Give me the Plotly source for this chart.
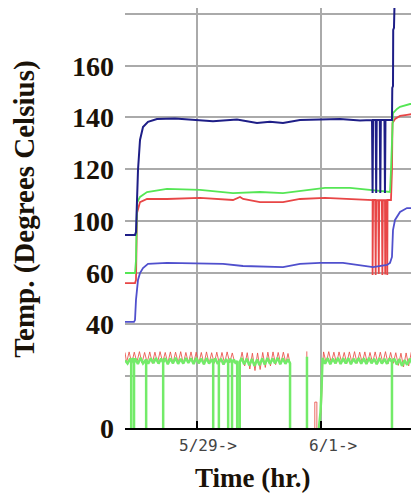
import plotly.graph_objects as go

# ---------------- data (x: hours from start, y: axis units, grid step = 20) ----------------
# Y tick labels as printed on the original chart
Y_TICKVALS = [0, 20, 40, 60, 80, 100, 120, 140, 160]
Y_TICKTEXT = ["0", "", "40", "60", "100", "120", "140", "160", ""]
X_GRID = [14, 38]
X_LABELS = ["5/29->", "6/1->"]
X_LABEL_POS = [16.1, 40.3]

# upper temperature traces
NAVY_X = [0, 1.94, 2.13, 2.23, 2.33, 2.52, 2.91, 3.30, 3.49, 4.46, 6.2, 9.7, 14.54, 17.06, 21.71,
          25.59, 28.1, 30.63, 33.93, 37.8, 41.68, 45.56, 47.89,
          48.0, 48.1, 48.6, 48.7, 48.8, 49.4, 49.5, 49.6, 50.3, 50.4, 50.5, 51.4,
          51.76, 51.82, 51.96, 52.0, 52.15, 52.25]
NAVY_Y = [74.6, 74.6, 75.7, 84.3, 92.0, 99.7, 111.3, 115.2, 116.3, 118.3, 119.4, 119.6, 119.0, 118.5, 119.2,
          117.9, 118.3, 117.9, 119.0, 119.2, 119.4, 118.8, 119.0,
          90.8, 119.0, 119.0, 90.8, 119.0, 119.0, 90.8, 119.0, 119.0, 90.8, 119.0, 119.0,
          119.0, 131.4, 132.1, 153.8, 154.6, 163.5]

REDU_X = [0, 1.94, 2.13, 2.23, 2.33, 2.91, 4.27, 8.14, 14.54, 20.94, 22.3, 22.9, 26.17, 30.63, 33.93,
          38.77, 43.62, 47.5,
          48.0, 48.0, 48.1, 48.5, 48.6, 48.7, 49.1, 49.2, 49.3, 49.8, 49.9, 50.0, 50.4, 50.45, 50.5,
          50.8, 50.85, 50.9, 51.4, 51.57, 51.76, 51.86, 52.35, 52.73, 53.32, 54.67, 57.0]
REDU_Y = [56.0, 56.0, 57.2, 72.7, 83.1, 87.3, 88.5, 88.5, 88.9, 88.1, 89.3, 88.5, 87.3, 87.3, 88.5,
          88.9, 88.5, 88.1,
          88.1, 59.1, 88.1, 88.1, 59.1, 88.1, 88.0, 59.5, 88.0, 88.0, 59.1, 88.0, 88.0, 59.3, 88.0,
          88.0, 59.1, 88.1, 88.1, 88.1, 99.7, 117.9, 119.4, 119.8, 120.6, 121.0, 121.7]

GRU_X = [0, 1.94, 2.13, 2.23, 2.33, 2.91, 4.27, 8.14, 14.54, 20.94, 26.17, 30.63, 33.93, 38.77,
         43.62, 47.5, 50.99, 51.38, 51.57, 51.76, 51.96, 52.73, 53.32, 55.26, 57.0]
GRU_Y = [59.9, 59.9, 64.9, 76.5, 87.0, 89.3, 91.2, 92.4, 92.0, 90.8, 91.2, 90.8, 91.6, 92.8,
         92.8, 92.0, 91.2, 91.2, 99.7, 115.2, 121.7, 123.3, 124.1, 125.2, 125.2]

BLU_X = [0, 1.74, 1.94, 2.13, 2.52, 2.91, 3.49, 4.46, 8.14, 16.48, 19.0, 22.88, 30.63, 33.93,
         37.81, 42.26, 46.92, 48.08, 50.79, 51.38, 51.76, 51.96, 52.35, 53.32, 54.67, 57.0]
BLU_Y = [41.0, 41.0, 41.7, 49.5, 57.2, 59.9, 61.8, 63.4, 63.8, 63.4, 63.4, 62.6, 62.2, 63.4,
         63.8, 63.8, 62.6, 62.2, 63.0, 63.8, 66.1, 76.5, 80.4, 83.5, 85.0, 85.0]

# lower activity traces
GL_X = [0.0, 0.5, 1.0, 1.2, 1.2, 1.2, 1.5, 1.75, 1.75, 1.75, 2.0, 2.5, 3.0, 3.5, 4.1, 4.1, 4.1,
        4.5, 5.0, 5.5, 6.0, 6.5, 7.0, 7.4, 7.4, 7.4, 7.8, 8.3, 8.8, 9.3, 9.8, 10.3, 10.8, 11.3,
        11.8, 12.3, 12.8, 13.3, 13.8, 14.3, 14.8, 15.3, 15.8, 16.3, 16.8, 17.1, 17.1, 17.1, 17.5,
        18.0, 18.2, 18.2, 18.2, 18.6, 19.1, 19.6, 20.0, 20.0, 20.0, 20.4, 20.75, 20.75, 20.75,
        21.1, 21.5, 21.75, 21.75, 22.25, 22.25,
        22.6, 23.1, 23.6, 24.1, 24.6, 25.1, 25.6, 26.1, 26.6, 27.1, 27.6, 28.1, 28.6, 29.1, 29.6,
        30.1, 30.6, 31.1, 31.6, 32.0, 32.0, None, 35.28, 35.28, 35.28, None,
        37.6, 37.9, 38.1, 38.3,
        38.8, 39.3, 39.8, 40.3, 40.8, 41.3, 41.8, 42.3, 42.8, 43.3, 43.8, 44.3, 44.8, 45.3, 45.8,
        46.3, 46.8, 47.3, 47.8, 48.3, 48.8, 49.3, 49.8, 50.3, 50.8, 51.3, 51.76, 51.76, 51.76,
        52.2, 52.7, 53.2, 53.7, 54.2, 54.7, 55.2, 55.7, 56.2, 56.7, 57.0]
GL_Y = [26.2, 24.9, 26.8, 25.5, 0, 25.5, 27.0, 25.0, 0, 25.0, 26.9, 24.7, 27.1, 25.0, 26.5, 0, 26.5,
        24.8, 26.9, 25.1, 27.0, 24.9, 26.8, 25.2, 0, 25.2, 27.0, 24.6, 26.9, 25.0, 27.1, 24.8, 26.7, 24.9,
        27.0, 25.2, 26.9, 24.7, 27.1, 25.0, 26.8, 24.6, 27.0, 24.9, 26.6, 25.0, 0, 25.0, 26.9,
        24.7, 25.5, 0, 25.5, 26.8, 24.5, 26.7, 25.0, 0, 25.0, 26.8, 25.0, 0, 25.0,
        26.5, 24.8, 26.0, 0, 0, 25.5,
        27.0, 24.6, 26.8, 24.2, 26.7, 24.0, 26.5, 24.3, 26.9, 24.5, 27.0, 24.8, 26.8, 25.0, 27.1,
        24.6, 26.9, 24.8, 26.5, 25.0, 0, None, 0, 27.5, 0, None,
        0, 6, 15, 27.0,
        24.8, 27.0, 24.6, 26.8, 25.0, 27.1, 24.7, 26.9, 24.9, 27.0, 24.6, 26.8, 25.1, 27.0, 24.8,
        26.9, 24.7, 27.1, 25.0, 26.8, 24.6, 27.0, 24.9, 26.7, 24.8, 26.9, 25.5, 0, 25.5,
        26.8, 24.5, 26.6, 24.0, 26.2, 24.4, 26.8, 24.8, 26.9, 25.0, 26.5]

RL_X = [0.0, 0.3, 0.8, 1.3, 1.8, 2.3, 2.8, 3.3, 3.8, 4.3, 4.8, 5.3, 5.8, 6.3, 6.8, 7.3, 7.8, 8.3,
        8.8, 9.3, 9.8, 10.3, 10.8, 11.3, 11.8, 12.3, 12.8, 13.3, 13.8, 14.3, 14.8, 15.3, 15.8, 16.3,
        16.8, 17.3, 17.8, 18.3, 18.8, 19.3, 19.8, 20.3, 20.8, 21.3, 21.75, 21.75, 22.25, 22.25,
        22.7, 23.2, 23.7, 24.2, 24.7, 25.2, 25.7, 26.2, 26.7, 27.2, 27.7, 28.2, 28.7, 29.2, 29.7,
        30.2, 30.7, 31.2, 31.6, 32.0, 32.0, None, 35.25, 35.25, None, 36.8, 36.8, 37.2, 37.2, None,
        37.7, 37.9, 38.1, 38.3, 38.5,
        39.0, 39.5, 40.0, 40.5, 41.0, 41.5, 42.0, 42.5, 43.0, 43.5, 44.0, 44.5, 45.0, 45.5, 46.0,
        46.5, 47.0, 47.5, 48.0, 48.5, 49.0, 49.5, 50.0, 50.5, 51.0, 51.5, 52.0, 52.5, 53.0, 53.5,
        54.0, 54.5, 55.0, 55.5, 56.0, 56.5, 57.0]
RL_Y = [29.2, 25.3, 29.4, 25.0, 29.3, 25.4, 29.5, 25.1, 29.2, 25.3, 29.4, 25.0, 29.3, 25.2, 29.5, 25.4, 29.2, 25.0,
        29.4, 24.9, 29.3, 25.2, 29.5, 24.8, 29.2, 25.1, 29.4, 24.9, 29.3, 25.0, 29.2, 24.6, 29.4, 24.8,
        29.1, 25.0, 29.3, 24.7, 29.2, 25.0, 29.4, 25.2, 29.0, 25.1, 25.0, 0, 0, 25.0,
        29.3, 24.0, 29.1, 22.8, 28.9, 22.2, 29.0, 22.6, 29.2, 23.4, 29.3, 24.0, 29.4, 24.5, 29.2,
        24.8, 29.3, 25.0, 28.8, 25.0, 0, None, 24.5, 29.6, None, 0, 10, 10, 0, None,
        0, 5, 9, 24, 29.4,
        25.1, 29.5, 25.2, 29.3, 25.0, 29.4, 25.3, 29.2, 24.9, 29.4, 25.2, 29.5, 25.0, 29.3, 25.1,
        29.4, 24.9, 29.2, 25.2, 29.4, 25.0, 29.3, 25.1, 29.5, 24.8, 29.2, 25.0, 29.1, 24.2, 28.9,
        23.6, 29.0, 24.0, 29.2, 24.6, 29.3, 25.0]

# ---------------- figure ----------------
fig = go.Figure()

def add_line(x, y, color, width):
    fig.add_trace(go.Scatter(x=x, y=y, mode="lines", line=dict(color=color, width=width),
                             connectgaps=False, hoverinfo="skip"))

add_line(RL_X, RL_Y, "rgba(232,80,70,0.85)", 1.0)
add_line(GL_X, GL_Y, "rgb(115,235,105)", 2.5)
add_line(REDU_X, REDU_Y, "rgb(232,70,70)", 1.8)
add_line(GRU_X, GRU_Y, "rgb(85,230,85)", 1.8)
add_line(BLU_X, BLU_Y, "rgb(80,80,205)", 1.8)
add_line(NAVY_X, NAVY_Y, "rgb(30,30,135)", 2.0)

serif = "Liberation Serif, Times New Roman, serif"
dark = "#1a1208"

# page body adds an 8px margin: figure is sized so the plot lands where the reference has it
fig.update_layout(
    width=411, height=488,
    margin=dict(l=117, r=0, t=0, b=68),
    paper_bgcolor="white", plot_bgcolor="white",
    showlegend=False,
    xaxis=dict(range=[0, 57], tickvals=X_GRID, ticktext=["", ""], showgrid=True,
               gridcolor="#aaaaaa", gridwidth=1.5, showline=True, linecolor="black",
               linewidth=2, ticks="inside", ticklen=7, tickwidth=2, tickcolor="black",
               zeroline=False),
    yaxis=dict(range=[0, 162.3], tickvals=Y_TICKVALS, ticktext=Y_TICKTEXT, showgrid=True,
               gridcolor="#aaaaaa", gridwidth=1.5, showline=False, zeroline=False, ticks="",
               ticklabelstandoff=10,
               tickfont=dict(family=serif, size=28, color=dark, weight="bold")),
)

for txt, xp in zip(X_LABELS, X_LABEL_POS):
    fig.add_annotation(x=xp, y=0, xref="x", yref="paper", text=txt, showarrow=False,
                       yanchor="middle", yshift=-17,
                       font=dict(family="DejaVu Sans Mono, monospace", size=16, color="#444444"))

fig.add_annotation(x=0.435, y=0, xref="paper", yref="paper", text="Time (hr.)", showarrow=False,
                   yanchor="bottom", yshift=-67,
                   font=dict(family=serif, size=27, color=dark, weight="bold"))

fig.add_annotation(x=-0.34, y=0.52, xref="paper", yref="paper", text="Temp. (Degrees Celsius)",
                   showarrow=False, textangle=-90, xanchor="center", yanchor="middle",
                   font=dict(family=serif, size=29, color=dark, weight="bold"))

fig.write_html("out.html")
